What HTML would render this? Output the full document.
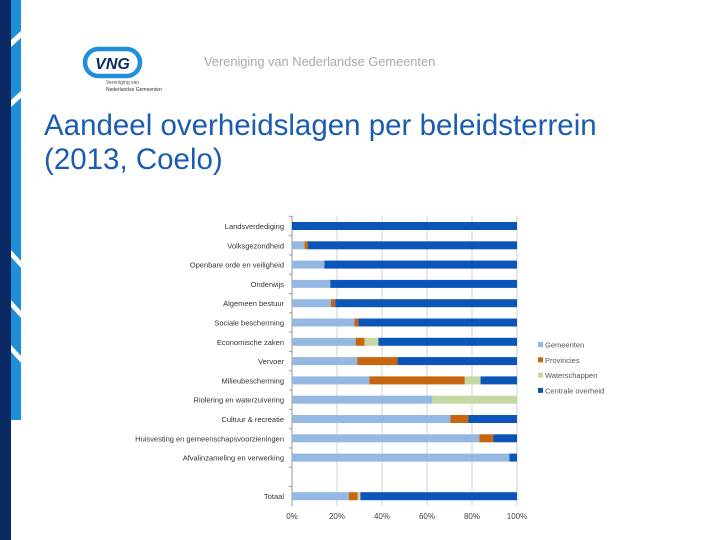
<!DOCTYPE html>
<html><head><meta charset="utf-8"><style>
body{margin:0;width:720px;height:540px;background:#fff;position:relative;overflow:hidden;font-family:"Liberation Sans",sans-serif}
.abs{position:absolute}
</style></head><body>
<div class="abs" style="left:0;top:0;width:11px;height:540px;background:#0b2a63"></div>
<div class="abs" style="left:11px;top:0;width:10px;height:420px;background:#1e8fd8"></div>
<svg class="abs" style="left:0;top:0" width="22" height="540">
<polygon points="11,40 22,30 22,37 11,47" fill="#fff"/>
<polygon points="11,100 22,90 22,97 11,107" fill="#fff"/>
<polygon points="11,250 22,262 22,269 11,257" fill="#fff"/>
<polygon points="11,300 22,312 22,319 11,307" fill="#fff"/>
<polygon points="11,345 22,357 22,364 11,352" fill="#fff"/>
</svg>
<svg class="abs" style="left:82px;top:46px" width="100" height="50">
<rect x="3" y="3" width="55" height="27" rx="13.5" fill="none" stroke="#1e8fd8" stroke-width="4.5"/>
<text x="30.5" y="23" font-family="Liberation Sans" font-weight="bold" font-size="16" fill="#0b2a63" text-anchor="middle" font-style="italic">VNG</text>
<text x="24" y="38" font-size="5" fill="#555">Vereniging van</text>
<text x="24" y="45" font-size="5" fill="#333">Nederlandse Gemeenten</text>
</svg>
<div class="abs" style="left:204px;top:54px;font-size:12.8px;color:#a9a9a9">Vereniging van Nederlandse Gemeenten</div>
<div class="abs" style="left:44px;top:109px;font-size:29.5px;line-height:34px;color:#1a5db0">Aandeel overheidslagen per beleidsterrein<br>(2013, Coelo)</div>
<svg class="abs" id="chart" style="left:0;top:0" width="720" height="540"></svg>
<script>
const categories=["Landsverdediging","Volksgezondheid","Openbare orde en veiligheid","Onderwijs","Algemeen bestuur","Sociale bescherming","Economische zaken","Vervoer","Milieubescherming","Riolering en waterzuivering","Cultuur & recreatie","Huisvesting en gemeenschapsvoorzieningen","Afvalinzameling en verwerking","","Totaal"];
const gemeenten=[0,5.6,14.4,17,17.3,27.7,28.3,29,34.4,62.4,70.4,83.3,96.6,0,25.2];
const provincies=[0,1.5,0,0,1.9,1.8,3.9,17.9,42.4,0,8,6.1,0,0,4];
const waterschappen=[0,0,0,0,0,0,6.2,0,7,37.6,0,0,0,0,1.2];
const centrale=[100,92.9,85.6,83,80.8,70.5,61.6,53.1,16.2,0,21.6,10.6,3.4,0,69.6];
const ticks=["0%","20%","40%","60%","80%","100%"];
const seriesNames=["Gemeenten","Provincies","Waterschappen","Centrale overheid"];
const colors=["#95b8e3","#c8650f","#c3d8a3","#0b55b8"];
const svg=document.getElementById('chart');const NS="http://www.w3.org/2000/svg";
const x0=292,x1=517,yTop=216,step=19.3,bh=8;
const xs=v=>x0+(x1-x0)*v/100;const ys=i=>226+step*i;
function mk(t,a){const e=document.createElementNS(NS,t);for(const k in a)e.setAttribute(k,a[k]);svg.appendChild(e);return e;}
ticks.forEach((t,i)=>{const v=i*20;
const g=mk('line',{x1:xs(v),x2:xs(v),y1:yTop,y2:506,stroke:'#d0d0d0','stroke-width':1});

const l=mk('text',{x:xs(v),y:519,'font-size':8,fill:'#444','text-anchor':'middle','font-family':'Liberation Sans'});l.textContent=t;
});
const ax=mk('line',{x1:x0,x2:x0,y1:yTop,y2:506,stroke:'#999'});

const series=[gemeenten,provincies,waterschappen,centrale];
categories.forEach((c,i)=>{
const tk=mk('line',{x1:x0-3,x2:x0,y1:ys(i)-step/2,y2:ys(i)-step/2,stroke:'#999'});

if(c){const t=mk('text',{x:284,y:ys(i)+3,'font-size':7.5,fill:'#333','text-anchor':'end','font-family':'Liberation Sans'});t.textContent=c;
}
let acc=0;series.forEach((s,j)=>{const v=s[i];if(v>0){
const r=mk('rect',{x:xs(acc),y:ys(i)-bh/2,width:xs(acc+v)-xs(acc),height:bh,fill:colors[j]});
}acc+=v;});
});
seriesNames.forEach((n,j)=>{const y=345+15.3*j;
const r=mk('rect',{x:538,y:y-3,width:5,height:5,fill:colors[j]});

const t=mk('text',{x:545,y:y+2.5,'font-size':7.5,fill:'#555','font-family':'Liberation Sans'});t.textContent=n;
});
</script>
</body></html>
